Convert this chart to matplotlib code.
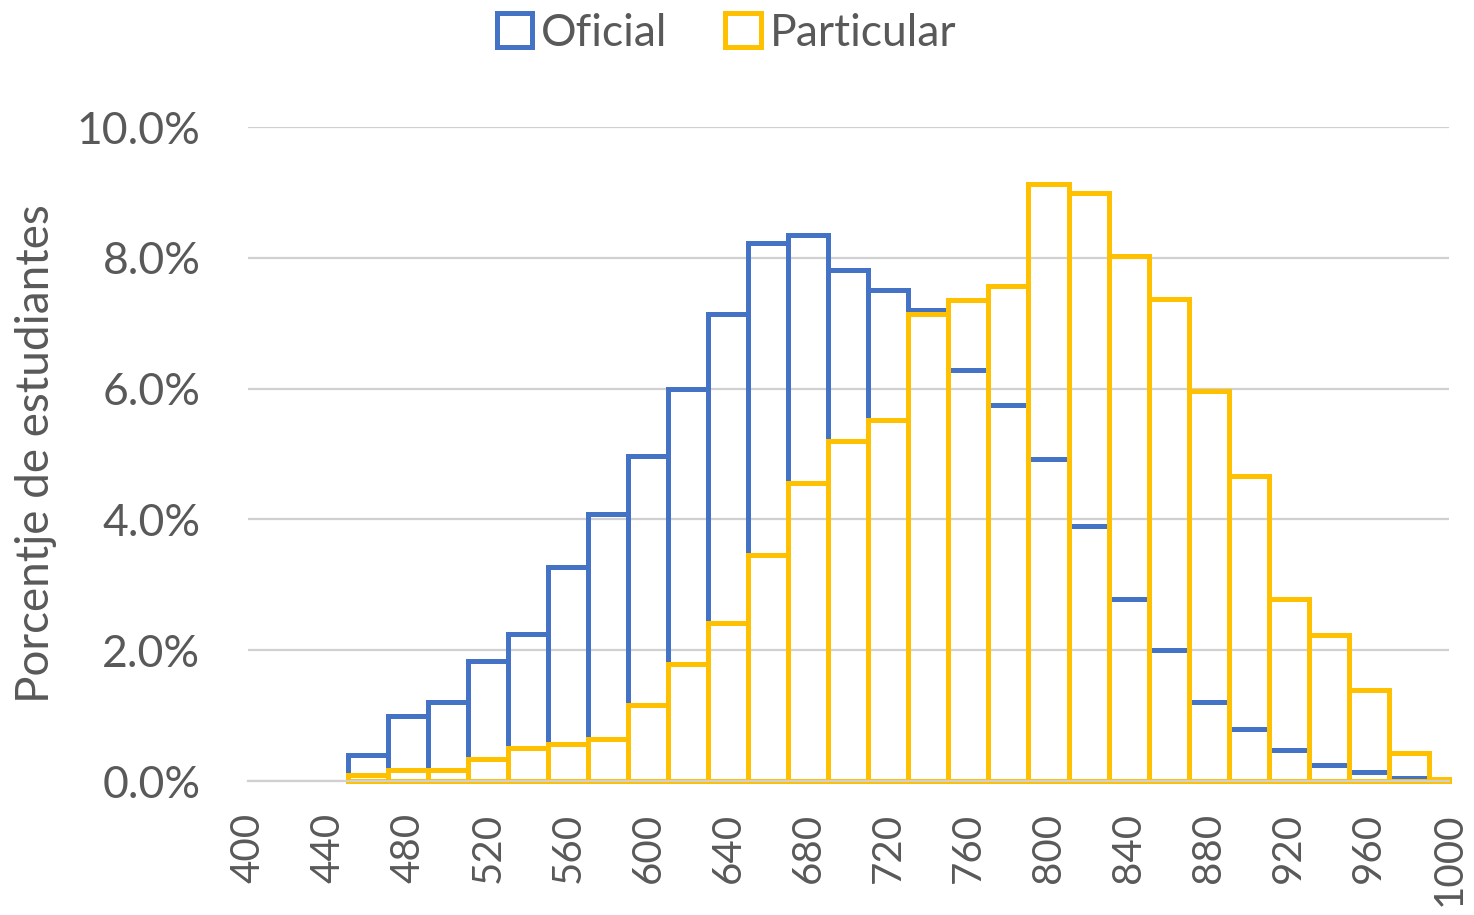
import matplotlib.pyplot as plt
from matplotlib.patches import Patch
from matplotlib.ticker import FuncFormatter

# bin left edges (width 20, last bin stops at the 1000 axis end)
bin_edges = list(range(450, 1000, 20))
bin_widths = [20] * 27 + [10]

oficial = [0.40, 0.99, 1.21, 1.83, 2.25, 3.27, 4.08, 4.97, 5.99, 7.14,
           8.23, 8.35, 7.81, 7.51, 7.20, 6.28, 5.75, 4.92, 3.90, 2.78,
           2.00, 1.21, 0.80, 0.47, 0.24, 0.14, 0.05, 0.0]
particular = [0.10, 0.17, 0.17, 0.34, 0.50, 0.57, 0.64, 1.16, 1.79, 2.42,
              3.46, 4.56, 5.20, 5.52, 7.14, 7.36, 7.57, 9.13, 8.99, 8.03,
              7.37, 5.96, 4.66, 2.78, 2.23, 1.39, 0.43, 0.03]

series_names = ["Oficial", "Particular"]
colors = ["#4472C4", "#FFC000"]
x_ticks = list(range(400, 1001, 40))
y_ticks = [0, 2, 4, 6, 8, 10]

text_color = "#595959"
plt.rcParams["font.family"] = ["Lato", "DejaVu Sans"]

fig = plt.figure(figsize=(14.74, 9.15), dpi=100)
ax = fig.add_axes([0.168, 0.1464, 0.815, 0.7148])

for values, color in zip([oficial, particular], colors):
    ax.bar(bin_edges, values, width=bin_widths, align="edge", fill=False,
           edgecolor=color, linewidth=3.6, joinstyle="miter", clip_on=False)

ax.set_xlim(400, 1000)
ax.set_ylim(0, 10)
ax.set_xticks(x_ticks)
ax.set_xticklabels([str(t) for t in x_ticks], rotation=90, fontsize=29, color=text_color)
ax.set_yticks(y_ticks)
ax.yaxis.set_major_formatter(FuncFormatter(lambda v, _: f"{v:.1f}%"))
ax.tick_params(axis="y", labelsize=32, labelcolor=text_color, length=0, pad=34)
ax.tick_params(axis="x", length=0, pad=23)
ax.grid(axis="y", color="#d0d0d0", linewidth=1.6)
ax.set_axisbelow(True)
for side in ("top", "right", "left"):
    ax.spines[side].set_visible(False)
ax.spines["bottom"].set_color("#d0d0d0")
ax.spines["bottom"].set_linewidth(1.6)

ax.set_ylabel("Porcentje de estudiantes", fontsize=33, color=text_color, labelpad=14)

handles = [Patch(facecolor="white", edgecolor=c, linewidth=3.6, label=n)
           for n, c in zip(series_names, colors)]
fig.legend(handles=handles, loc="upper center", bbox_to_anchor=(0.493, 1.03), ncol=2,
           frameon=False, fontsize=32, labelcolor=text_color, handlelength=0.8,
           handleheight=0.8, handletextpad=0.2, columnspacing=1.3)

fig.savefig("out.png", dpi=100)
